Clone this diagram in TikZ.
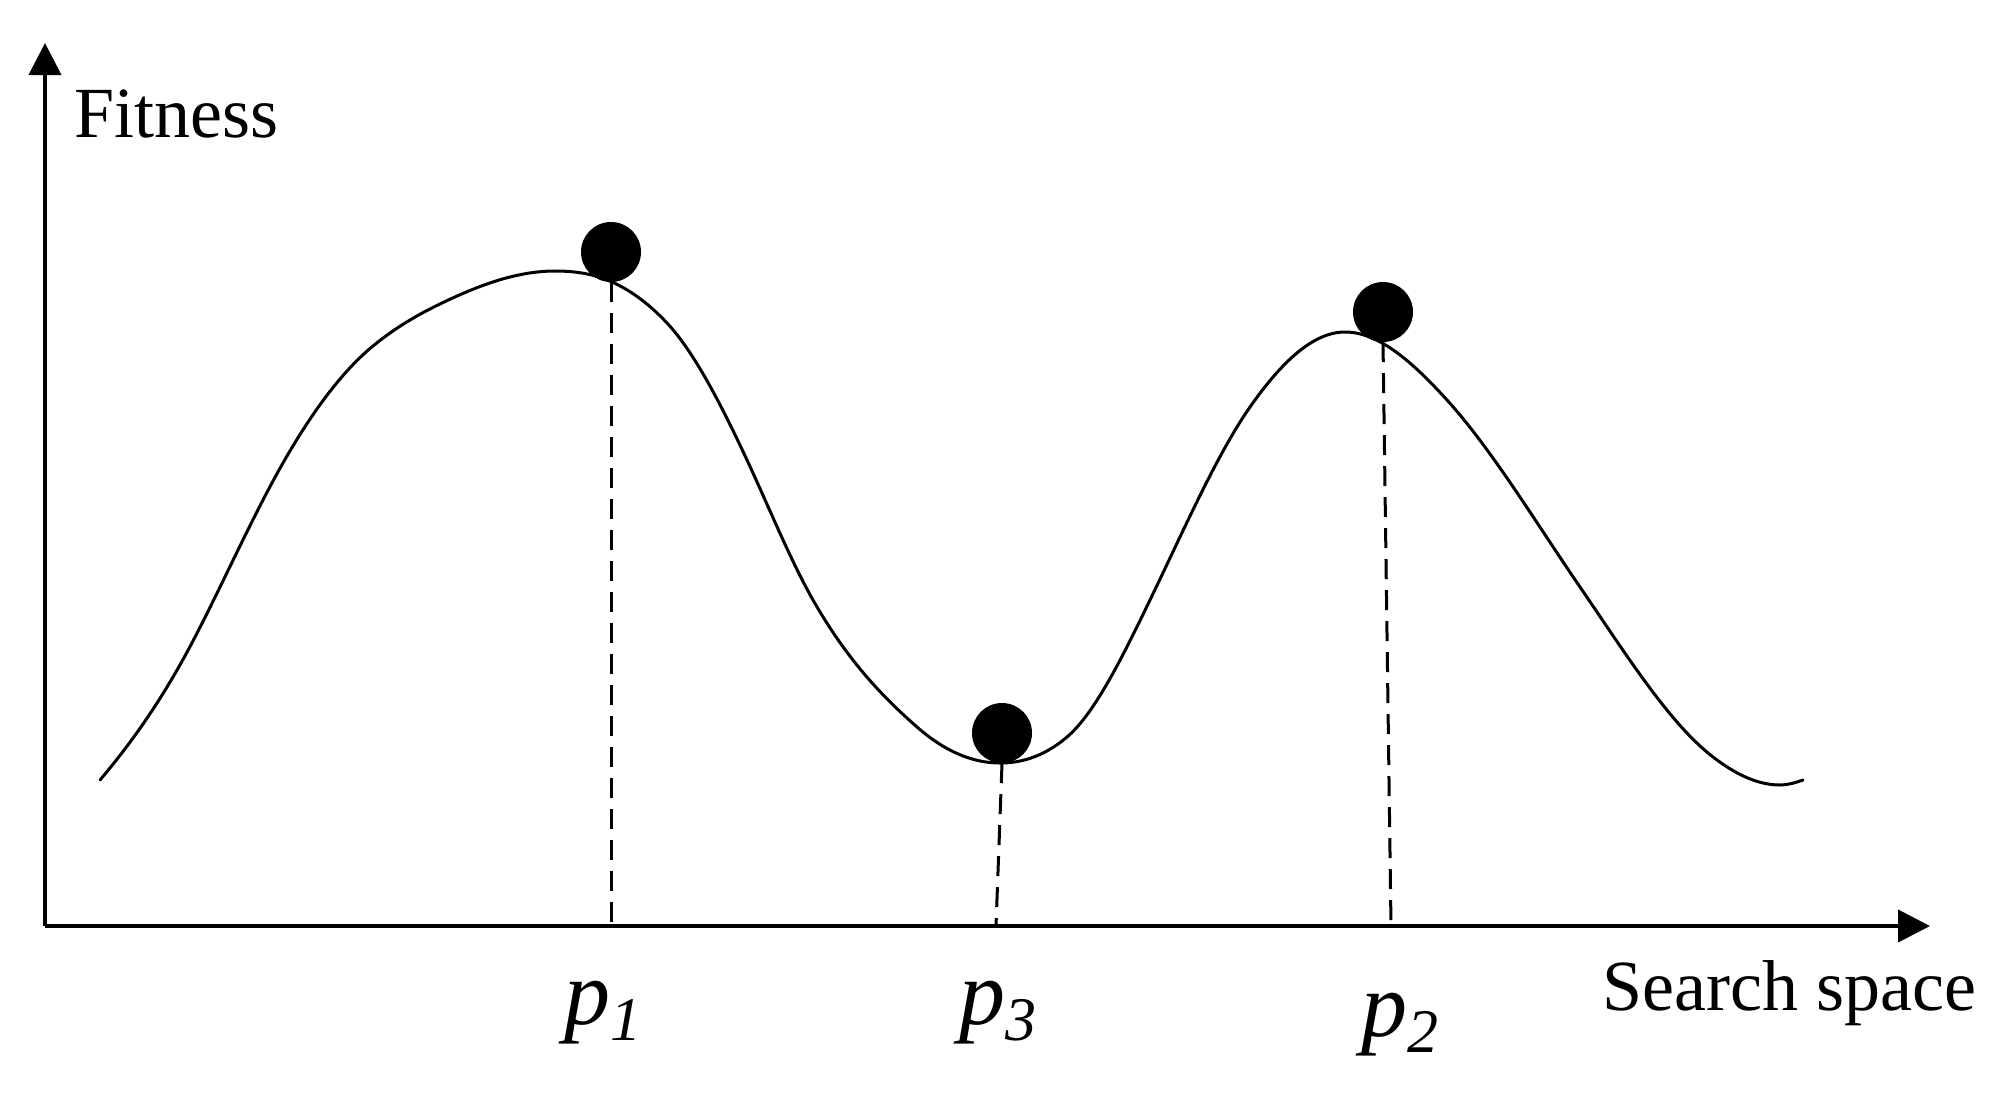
\documentclass[tikz,border=0pt]{standalone}
\usepackage{fontspec}
\setmainfont{Liberation Serif}
\usetikzlibrary{arrows.meta}
\begin{document}
\begin{tikzpicture}[x=1pt,y=-1pt,
  axis/.style={line width=4pt,-{Triangle[length=32pt,width=32pt]}},
  curve/.style={line width=3pt,line join=round,line cap=round},
  guide/.style={line width=3pt,dash pattern=on 20pt off 11pt},
  ball/.style={circle,fill=black,minimum size=60pt,inner sep=0pt},
  lab/.style={inner sep=0pt,font=\fontsize{72}{80}\selectfont},
  plab/.style={inner sep=0pt,font=\fontsize{92}{100}\selectfont\itshape}]
\useasboundingbox (0,0) rectangle (2012,1096);
\coordinate (O) at (45,926);
\coordinate (ytip) at (45,43);
\coordinate (xtip) at (1930,926);
\draw[axis] (O) -- (ytip);
\draw[axis] (O) -- (xtip);
\node[lab,anchor=base west] (fit) at (74,137) {Fitness};
\node[lab,anchor=base west] (ss) at (1602,1010) {Search space};
\draw[curve] (100,780)
 .. controls (131.33,743.0) and (162.67,699.2) .. (194,639)
 .. controls (220.33,588.4) and (246.67,529.7) .. (273,481)
 .. controls (306.33,419.3) and (339.67,373.3) .. (373,346)
 .. controls (396,327.1) and (419,314.0) .. (442,303)
 .. controls (479.67,284.9) and (517.33,271) .. (555,271)
 .. controls (574,271) and (593,273.45) .. (612,282)
 .. controls (630.33,290.25) and (648.67,303.4) .. (667,323)
 .. controls (693.67,351.5) and (720.33,402.7) .. (747,460)
 .. controls (769,507.3) and (791,561.5) .. (813,600)
 .. controls (847.67,660.7) and (882.33,696.5) .. (917,727)
 .. controls (944.67,751.3) and (972.33,763) .. (1000,763)
 .. controls (1022.33,763) and (1044.67,756.0) .. (1067,737)
 .. controls (1094.67,713.5) and (1122.33,657.3) .. (1150,600)
 .. controls (1183.33,531) and (1216.67,454.7) .. (1250,407)
 .. controls (1281.67,361.7) and (1313.33,332) .. (1345,332)
 .. controls (1379,332) and (1413,362.6) .. (1447,400)
 .. controls (1491.33,448.8) and (1535.67,522.3) .. (1580,587)
 .. controls (1624.33,651.7) and (1668.67,722.9) .. (1713,757)
 .. controls (1735.33,774.2) and (1757.67,785) .. (1780,785)
 .. controls (1787.67,785) and (1795.33,782.7) .. (1803,780);
\node[ball] (b1) at (611,252) {};
\node[ball] (b3) at (1002,733) {};
\node[ball] (b2) at (1383,312) {};
\coordinate (t1) at (611,926);
\coordinate (t3) at (996,926);
\coordinate (t2) at (1391,926);
\draw[guide] (b1.south) -- (t1);
\draw[guide] (b3.south) -- (t3);
\draw[guide] (b2.south) -- (t2);
\node[plab,anchor=base] (p1) at (603,1024) {p\raisebox{-16pt}{\fontsize{62}{62}\selectfont 1}};
\node[plab,anchor=base] (p3) at (998,1024) {p\raisebox{-16pt}{\fontsize{62}{62}\selectfont 3}};
\node[plab,anchor=base] (p2) at (1400,1036) {p\raisebox{-16pt}{\fontsize{62}{62}\selectfont 2}};
\end{tikzpicture}
\end{document}
